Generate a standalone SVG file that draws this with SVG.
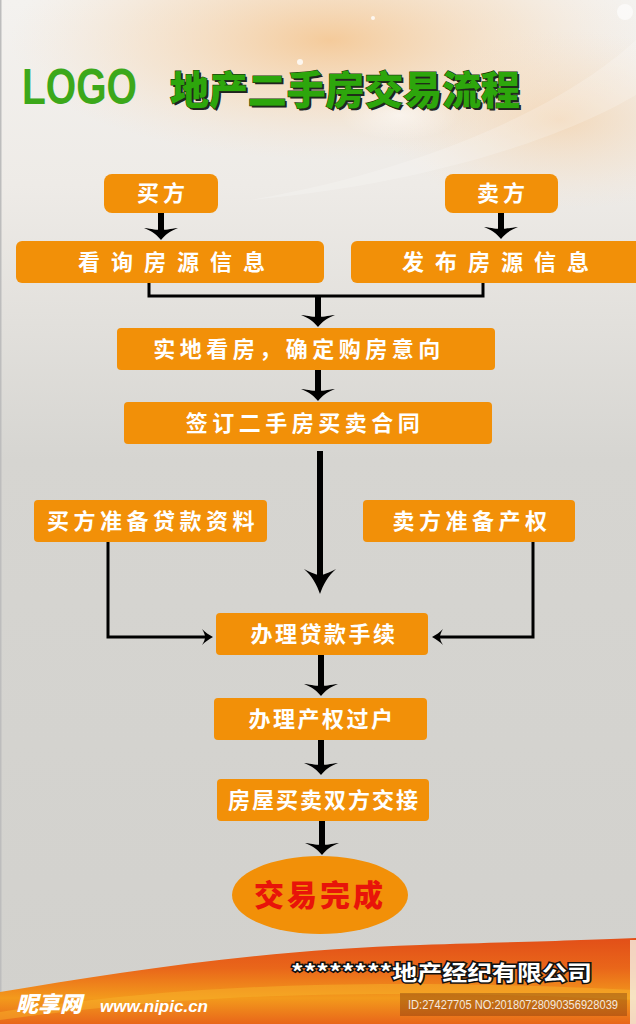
<svg xmlns="http://www.w3.org/2000/svg" width="636" height="1024" viewBox="0 0 636 1024">
<defs>
  <linearGradient id="bgv" x1="0" y1="0" x2="0" y2="1">
    <stop offset="0" stop-color="#f4f2ef"/>
    <stop offset="0.18" stop-color="#eeebe7"/>
    <stop offset="0.45" stop-color="#d6d5d1"/>
    <stop offset="1" stop-color="#d2d1cd"/>
  </linearGradient>
  <radialGradient id="peach" cx="0.5" cy="0.5" r="0.5">
    <stop offset="0" stop-color="#f5c48c" stop-opacity="0.85"/>
    <stop offset="0.6" stop-color="#f7d6b0" stop-opacity="0.4"/>
    <stop offset="1" stop-color="#f7e0c8" stop-opacity="0"/>
  </radialGradient>
  <radialGradient id="glow" cx="0.5" cy="0.5" r="0.5">
    <stop offset="0" stop-color="#ffffff" stop-opacity="0.9"/>
    <stop offset="1" stop-color="#ffffff" stop-opacity="0"/>
  </radialGradient>
  <linearGradient id="wave" x1="0" y1="0" x2="0" y2="1">
    <stop offset="0" stop-color="#e24f18"/>
    <stop offset="0.35" stop-color="#e9661a"/>
    <stop offset="0.7" stop-color="#f39a1c"/>
    <stop offset="1" stop-color="#e8661a"/>
  </linearGradient>
  <path id="ah" d="M0,0 C-4,-5 -9,-9 -17,-12 C-9,-11 -4,-10 0,-10 C4,-10 9,-11 17,-12 C9,-9 4,-5 0,0Z"/>
  <path id="ahs" d="M0,0 C-3,-9 -8,-18 -16,-25 C-8,-21 -3,-19 0,-19 C3,-19 8,-21 16,-25 C8,-18 3,-9 0,0Z"/>
  <path id="ahm" d="M0,0 C-2,-4 -5,-8 -8,-11 C-5,-9 -2,-8 0,-8 C2,-8 5,-9 8,-11 C5,-8 2,-4 0,0Z"/>
  <style>
    .box{fill:#f29008;}
    .bt{font-family:"Noto Sans CJK SC",sans-serif;font-weight:700;font-size:22px;fill:#ffffff;text-anchor:middle;}
    .stem{stroke:#000;stroke-width:6;fill:none;}
    .ln{stroke:#000;stroke-width:3;fill:none;}
    .hd{fill:#000;}
  </style>
</defs>

<!-- background -->
<rect x="0" y="0" width="636" height="1024" fill="url(#bgv)"/>
<ellipse cx="330" cy="40" rx="320" ry="120" fill="url(#peach)"/>
<ellipse cx="560" cy="120" rx="180" ry="90" fill="url(#peach)" opacity="0.6"/>
<path d="M636,40 C560,110 420,170 250,200 C420,185 560,140 636,95 Z" fill="#ffffff" opacity="0.2"/>
<ellipse cx="400" cy="115" rx="60" ry="25" fill="url(#glow)" opacity="0.6"/>
<circle cx="300" cy="62" r="3" fill="#ffffff" opacity="0.8"/>
<circle cx="373" cy="18" r="2" fill="#ffffff" opacity="0.8"/>
<circle cx="625" cy="12" r="8" fill="#ffffff" opacity="0.6"/>
<rect x="0" y="0" width="1.5" height="1024" fill="#bdbdbd"/>

<!-- bottom wave -->
<path d="M0,992 C120,972 260,950 420,945 C520,942 590,940 636,938 L636,1024 L0,1024 Z" fill="url(#wave)"/>
<path d="M0,1012 C150,990 320,975 636,990 L636,1000 C320,985 150,1000 0,1020 Z" fill="#f7b12a" opacity="0.5"/>
<rect x="630" y="940" width="6" height="84" fill="#f6f2ea" opacity="0.8"/>

<!-- title -->
<g id="title">
  <text x="22" y="104" font-family="Liberation Sans, Arial, sans-serif" font-weight="700" font-size="50" fill="#3ca81a" textLength="115" lengthAdjust="spacingAndGlyphs">LOGO</text>
  <text x="172" y="106" font-family="Noto Sans CJK SC, sans-serif" font-weight="900" font-size="39" fill="#222" textLength="350" lengthAdjust="spacingAndGlyphs">地产二手房交易流程</text>
  <text x="170" y="104" font-family="Noto Sans CJK SC, sans-serif" font-weight="900" font-size="39" fill="#2da60c" stroke="#1d3a10" stroke-width="1.2" paint-order="stroke" textLength="350" lengthAdjust="spacingAndGlyphs">地产二手房交易流程</text>
</g>

<!-- connectors -->
<g id="connectors">
  <line class="stem" x1="161" y1="213" x2="161" y2="232"/>
  <use href="#ah" class="hd" x="161" y="240"/>
  <line class="stem" x1="501" y1="213" x2="501" y2="232"/>
  <use href="#ah" class="hd" x="501" y="239"/>
  <polyline class="ln" points="149,283 149,296 483,296 483,283"/>
  <line class="stem" x1="318" y1="296" x2="318" y2="320"/>
  <use href="#ah" class="hd" x="318" y="327"/>
  <line class="stem" x1="318" y1="370" x2="318" y2="394"/>
  <use href="#ah" class="hd" x="318" y="401"/>
  <line class="stem" x1="320" y1="451" x2="320" y2="580"/>
  <use href="#ahs" class="hd" x="320" y="594"/>
  <polyline class="ln" points="108,542 108,637 205,637"/>
  <use href="#ahm" class="hd" transform="translate(213,637) rotate(-90)"/>
  <polyline class="ln" points="533,542 533,637 440,637"/>
  <use href="#ahm" class="hd" transform="translate(432,637) rotate(90)"/>
  <line class="stem" x1="321" y1="655" x2="321" y2="688"/>
  <use href="#ah" class="hd" x="321" y="696"/>
  <line class="stem" x1="321" y1="740" x2="321" y2="768"/>
  <use href="#ah" class="hd" x="321" y="775"/>
  <line class="stem" x1="322" y1="821" x2="322" y2="848"/>
  <use href="#ah" class="hd" x="322" y="855"/>
</g>

<!-- nodes -->
<g id="n-buyer">
  <rect class="box" x="104" y="174" width="114" height="39" rx="8"/>
  <text class="bt" x="163" y="201" letter-spacing="4">买方</text>
</g>
<g id="n-seller">
  <rect class="box" x="445" y="174" width="113" height="39" rx="8"/>
  <text class="bt" x="503" y="201" letter-spacing="4">卖方</text>
</g>
<g id="n-view">
  <rect class="box" x="16" y="241" width="308" height="42" rx="6"/>
  <text class="bt" x="177" y="270" letter-spacing="11">看询房源信息</text>
</g>
<g id="n-publish">
  <rect class="box" x="351" y="241" width="290" height="42" rx="6"/>
  <text class="bt" x="501" y="270" letter-spacing="11">发布房源信息</text>
</g>
<g id="n-visit">
  <rect class="box" x="117" y="328" width="378" height="42" rx="4"/>
  <text class="bt" x="299" y="357" letter-spacing="4.5">实地看房，确定购房意向</text>
</g>
<g id="n-contract">
  <rect class="box" x="124" y="402" width="368" height="42" rx="4"/>
  <text class="bt" x="305" y="431" letter-spacing="4.5">签订二手房买卖合同</text>
</g>
<g id="n-loanprep">
  <rect class="box" x="34" y="500" width="233" height="42" rx="4"/>
  <text class="bt" x="153" y="529" letter-spacing="4.5">买方准备贷款资料</text>
</g>
<g id="n-propprep">
  <rect class="box" x="363" y="500" width="212" height="42" rx="4"/>
  <text class="bt" x="472" y="529" letter-spacing="4.5">卖方准备产权</text>
</g>
<g id="n-loan">
  <rect class="box" x="216" y="613" width="212" height="42" rx="4"/>
  <text class="bt" x="324" y="642" letter-spacing="2.5">办理贷款手续</text>
</g>
<g id="n-transfer">
  <rect class="box" x="214" y="698" width="213" height="42" rx="4"/>
  <text class="bt" x="322" y="727" letter-spacing="2.5">办理产权过户</text>
</g>
<g id="n-handover">
  <rect class="box" x="217" y="779" width="212" height="42" rx="4"/>
  <text class="bt" x="324" y="808" letter-spacing="2">房屋买卖双方交接</text>
</g>
<g id="n-done">
  <ellipse cx="320" cy="895" rx="88" ry="39" fill="#f29008"/>
  <text x="320" y="906" font-family="Noto Sans CJK SC, sans-serif" font-weight="900" font-size="30" fill="#e8140a" text-anchor="middle" letter-spacing="3">交易完成</text>
</g>

<!-- footer -->
<g id="footer">
  <text x="291" y="980" font-family="Noto Sans CJK SC, sans-serif" font-weight="700" font-size="21" fill="#ffffff" stroke="#111" stroke-width="3" paint-order="stroke" textLength="301" lengthAdjust="spacingAndGlyphs">********地产经纪有限公司</text>
  <text x="16" y="1012" font-family="Noto Sans CJK SC, sans-serif" font-weight="900" font-style="italic" font-size="22" fill="#ffffff">昵享网</text>
  <text x="100" y="1012" font-family="Liberation Sans, Arial, sans-serif" font-weight="700" font-style="italic" font-size="17" fill="#ffffff">www.nipic.cn</text>
  <rect x="400" y="993" width="227" height="23" fill="#6a2a08" opacity="0.35"/>
  <text x="408" y="1009" font-family="Liberation Sans, Arial, sans-serif" font-size="12" fill="#ffffff" opacity="0.85" textLength="210" lengthAdjust="spacingAndGlyphs">ID:27427705 NO:20180728090356928039</text>
</g>
</svg>
